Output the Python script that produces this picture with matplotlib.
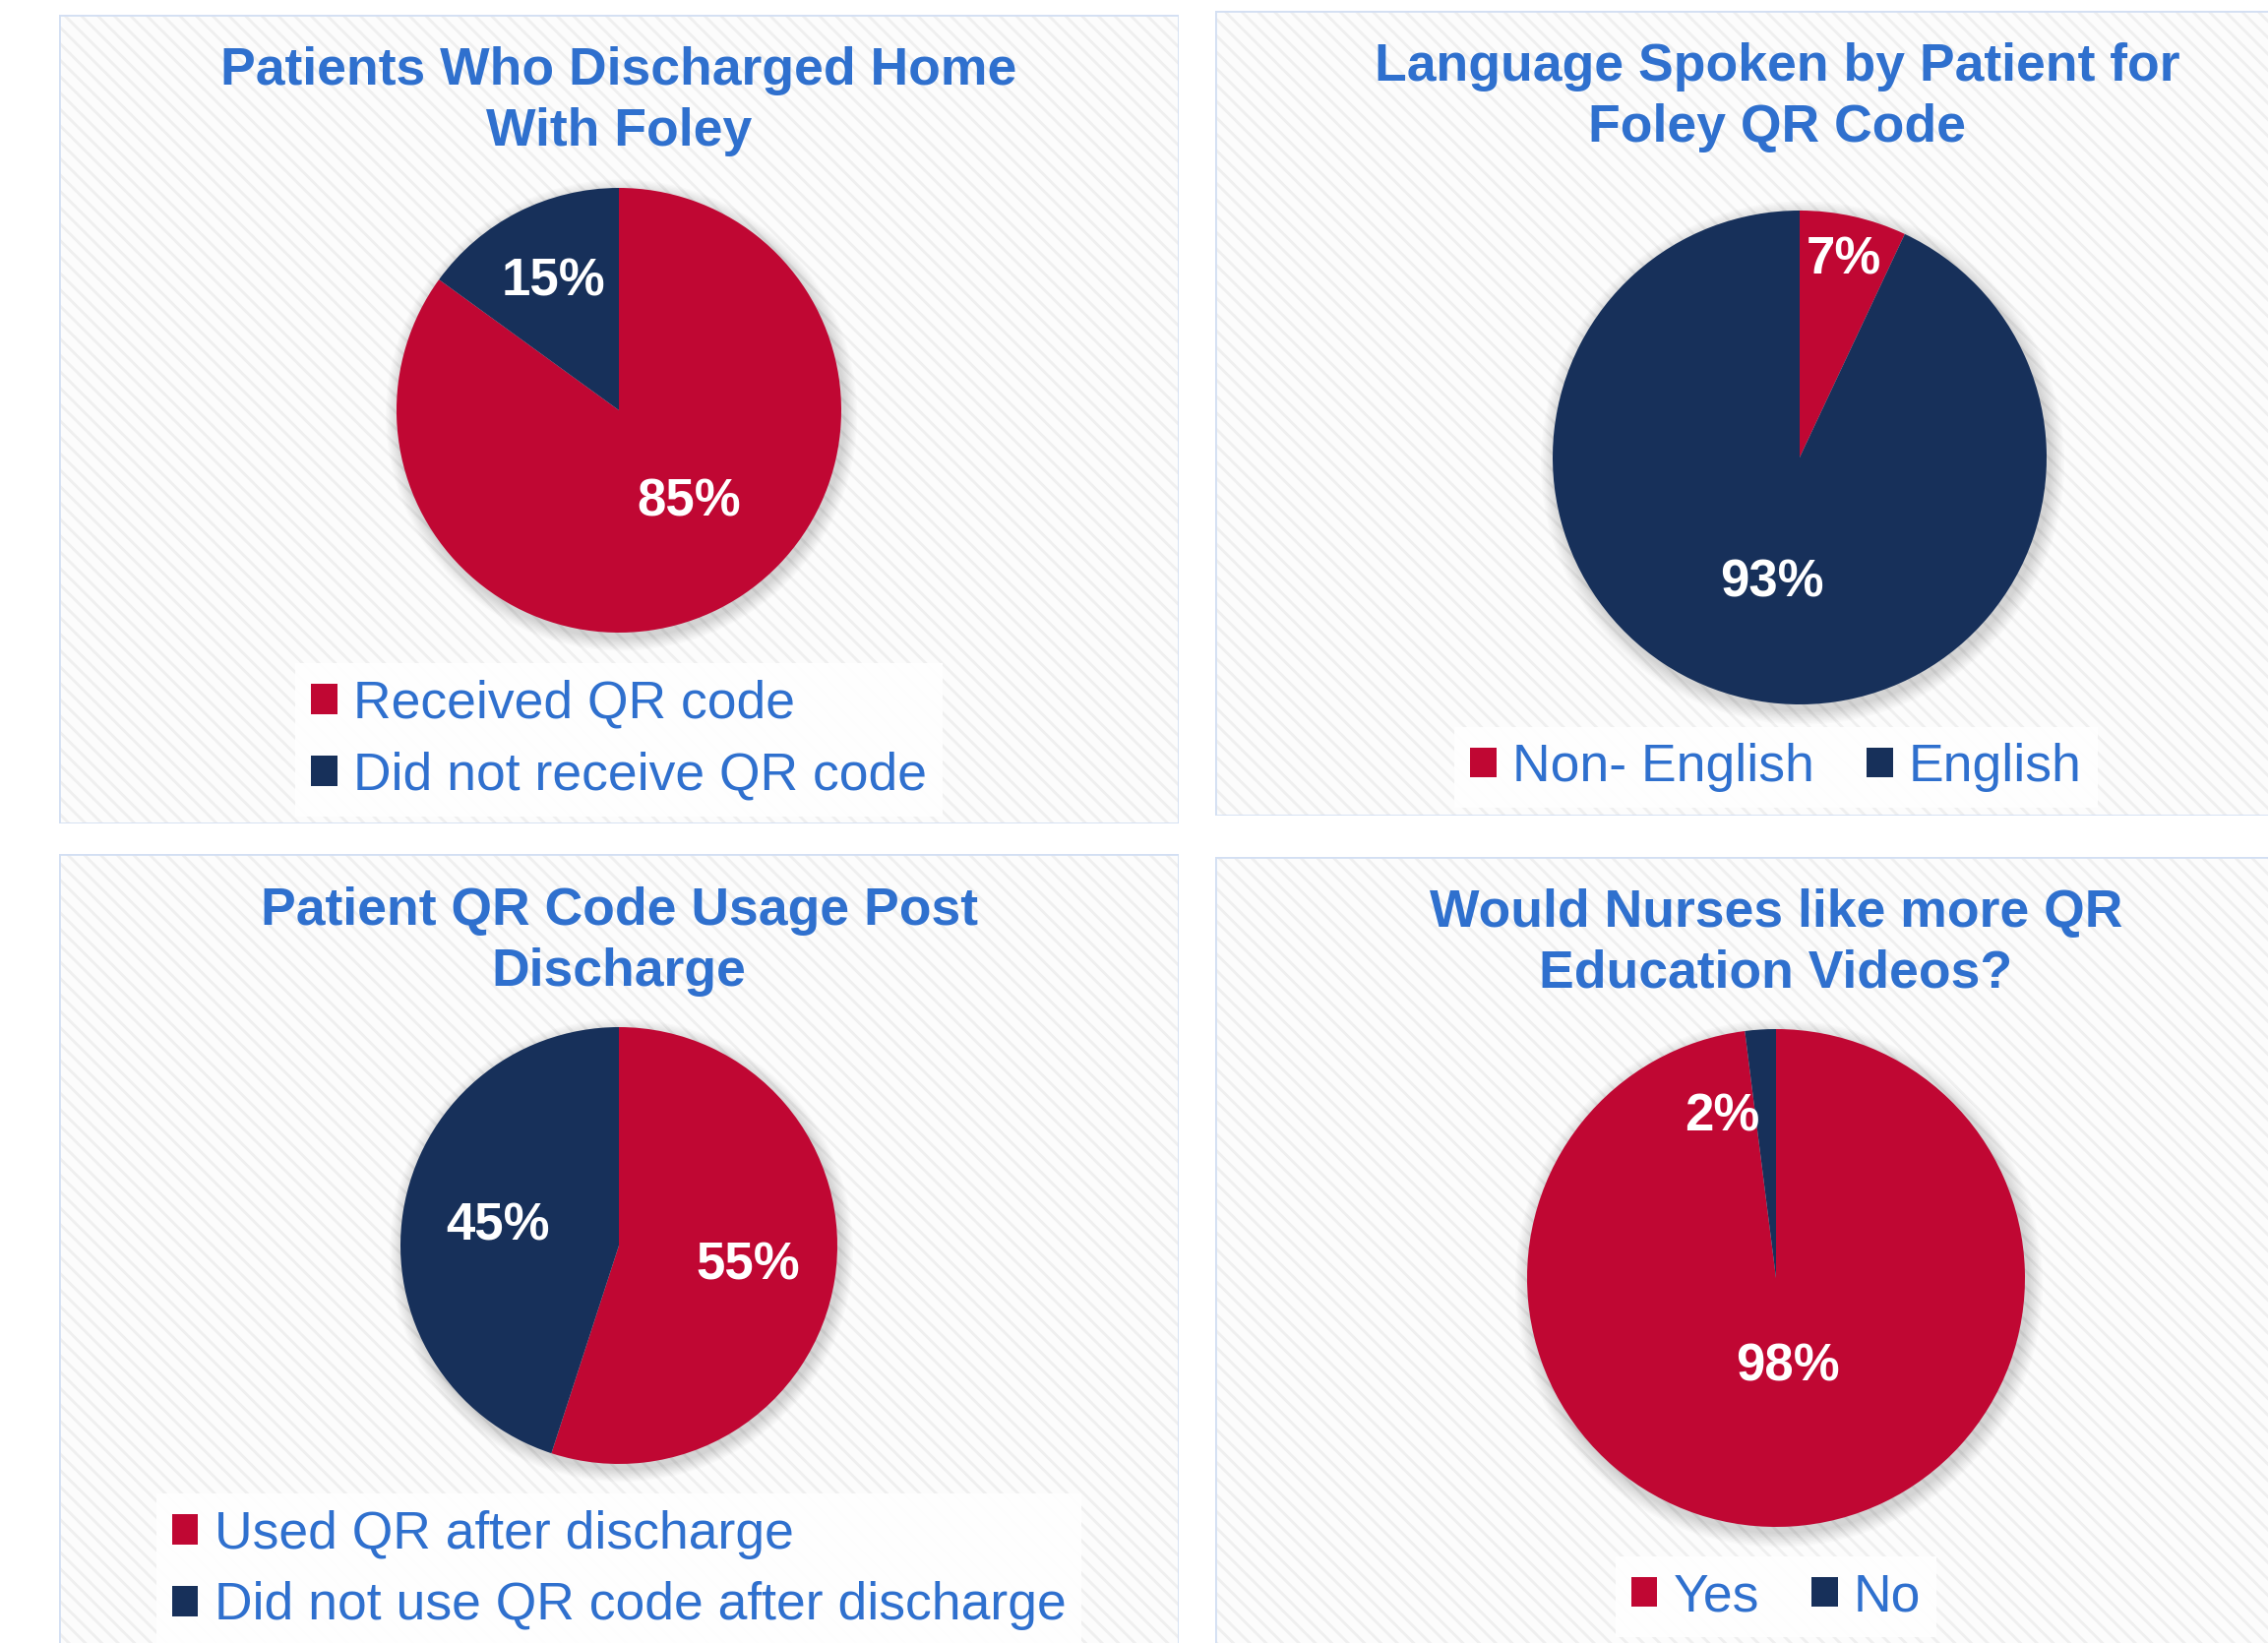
import numpy as np
import matplotlib
matplotlib.use("Agg")
import matplotlib.pyplot as plt
from matplotlib.patches import Rectangle, Circle, Patch

plt.rcParams["font.family"] = ["Liberation Sans", "DejaVu Sans"]
plt.rcParams["hatch.linewidth"] = 2.0

# dados
titles = [
    "Patients Who Discharged Home\nWith Foley",
    "Language Spoken by Patient for\nFoley QR Code",
    "Patient QR Code Usage Post\nDischarge",
    "Would Nurses like more QR\nEducation Videos?",
]
labels_1 = ["Received QR code", "Did not receive QR code"]
values_1 = [85, 15]
labels_2 = ["Non- English", "English"]
values_2 = [7, 93]
labels_3 = ["Used QR after discharge", "Did not use QR code after discharge"]
values_3 = [55, 45]
labels_4 = ["Yes", "No"]
values_4 = [98, 2]

RED = "#C00733"
NAVY = "#17305A"
BLUE = "#2F70CE"

W, H = 2305, 1670
fig = plt.figure(figsize=(W / 100, H / 100), dpi=100)
fig.patch.set_facecolor("white")


def fig_rect(x, y, w, h):
    return [x / W, 1 - (y + h) / H, w / W, h / H]


# layout em pixels (x, y topo)
panels = [
    dict(box=(60, 15, 1138, 822), pie=(629, 417, 226), title=(629, 103),
         leg=(629, 752), ncol=1, pctd=[0.52, 0.65], shift=[10, 0]),
    dict(box=(1235, 11, 1138, 818), pie=(1829, 465, 251), title=(1806, 99),
         leg=(1805, 780), ncol=2, pctd=[0.82, 0.52], shift=[0, 0]),
    dict(box=(60, 868, 1138, 822), pie=(629, 1266, 222), title=(629, 957),
         leg=(629, 1596), ncol=1, pctd=[0.60, 0.56], shift=[0, 0]),
    dict(box=(1235, 871, 1138, 822), pie=(1805, 1299, 253), title=(1805, 959),
         leg=(1805, 1623), ncol=2, pctd=[0.36, 0.68], shift=[4, 15]),
]
data = [(labels_1, values_1), (labels_2, values_2),
        (labels_3, values_3), (labels_4, values_4)]

for p, title, (labels, values) in zip(panels, titles, data):
    # fundo do painel (listras diagonais claras)
    bg = fig.add_axes(fig_rect(*p["box"]))
    bg.set_xlim(0, 1)
    bg.set_ylim(0, 1)
    bg.axis("off")
    bg.add_patch(Rectangle((0, 0), 1, 1, transform=bg.transAxes,
                           facecolor="#FCFCFC", edgecolor="#EFEFEF",
                           hatch="\\\\", linewidth=0, zorder=0))
    bg.add_patch(Rectangle((0, 0), 1, 1, transform=bg.transAxes,
                           facecolor="none", edgecolor="#D3DFF3",
                           linewidth=2.0, zorder=1))

    # pizza
    cx, cy, r = p["pie"]
    side = 2.6 * r
    ax = fig.add_axes(fig_rect(cx - side / 2, cy - side / 2, side, side))
    for k in range(1, 11):
        ax.add_patch(Circle((0.012, -0.022), 1 + 0.006 * k, color="black",
                            alpha=0.016, lw=0, zorder=0))
    wedges, _, autotexts = ax.pie(
        values, colors=[RED, NAVY], startangle=90, counterclock=False,
        autopct="%1.0f%%", wedgeprops=dict(linewidth=0),
        textprops=dict(color="white", fontsize=38, fontweight="bold"))
    for w, t, d, s in zip(wedges, autotexts, p["pctd"], p["shift"]):
        ang = np.deg2rad((w.theta1 + w.theta2) / 2 + s)
        t.set_position((d * np.cos(ang), d * np.sin(ang)))
        t.set_zorder(5)
    ax.set_xlim(-1.3, 1.3)
    ax.set_ylim(-1.3, 1.3)
    ax.set_aspect("equal")
    ax.axis("off")

    # título
    tx, ty = p["title"]
    fig.text(tx / W, 1 - ty / H, title, ha="center", va="center",
             fontsize=38.5, fontweight="bold", color=BLUE, linespacing=1.3)

    # legenda
    handles = [Patch(facecolor=c, edgecolor="none") for c in [RED, NAVY]]
    lx, ly = p["leg"]
    leg = ax.legend(handles, labels, loc="center", ncol=p["ncol"],
                    bbox_to_anchor=(lx / W, 1 - ly / H),
                    bbox_transform=fig.transFigure, fontsize=38.5,
                    frameon=True, fancybox=False, framealpha=0.92,
                    edgecolor="none", facecolor="white",
                    handlelength=0.5, handleheight=0.5, handletextpad=0.3,
                    labelspacing=0.43, columnspacing=1.0, borderpad=0.3)
    for txt in leg.get_texts():
        txt.set_color(BLUE)

fig.savefig("out.png", dpi=100)
